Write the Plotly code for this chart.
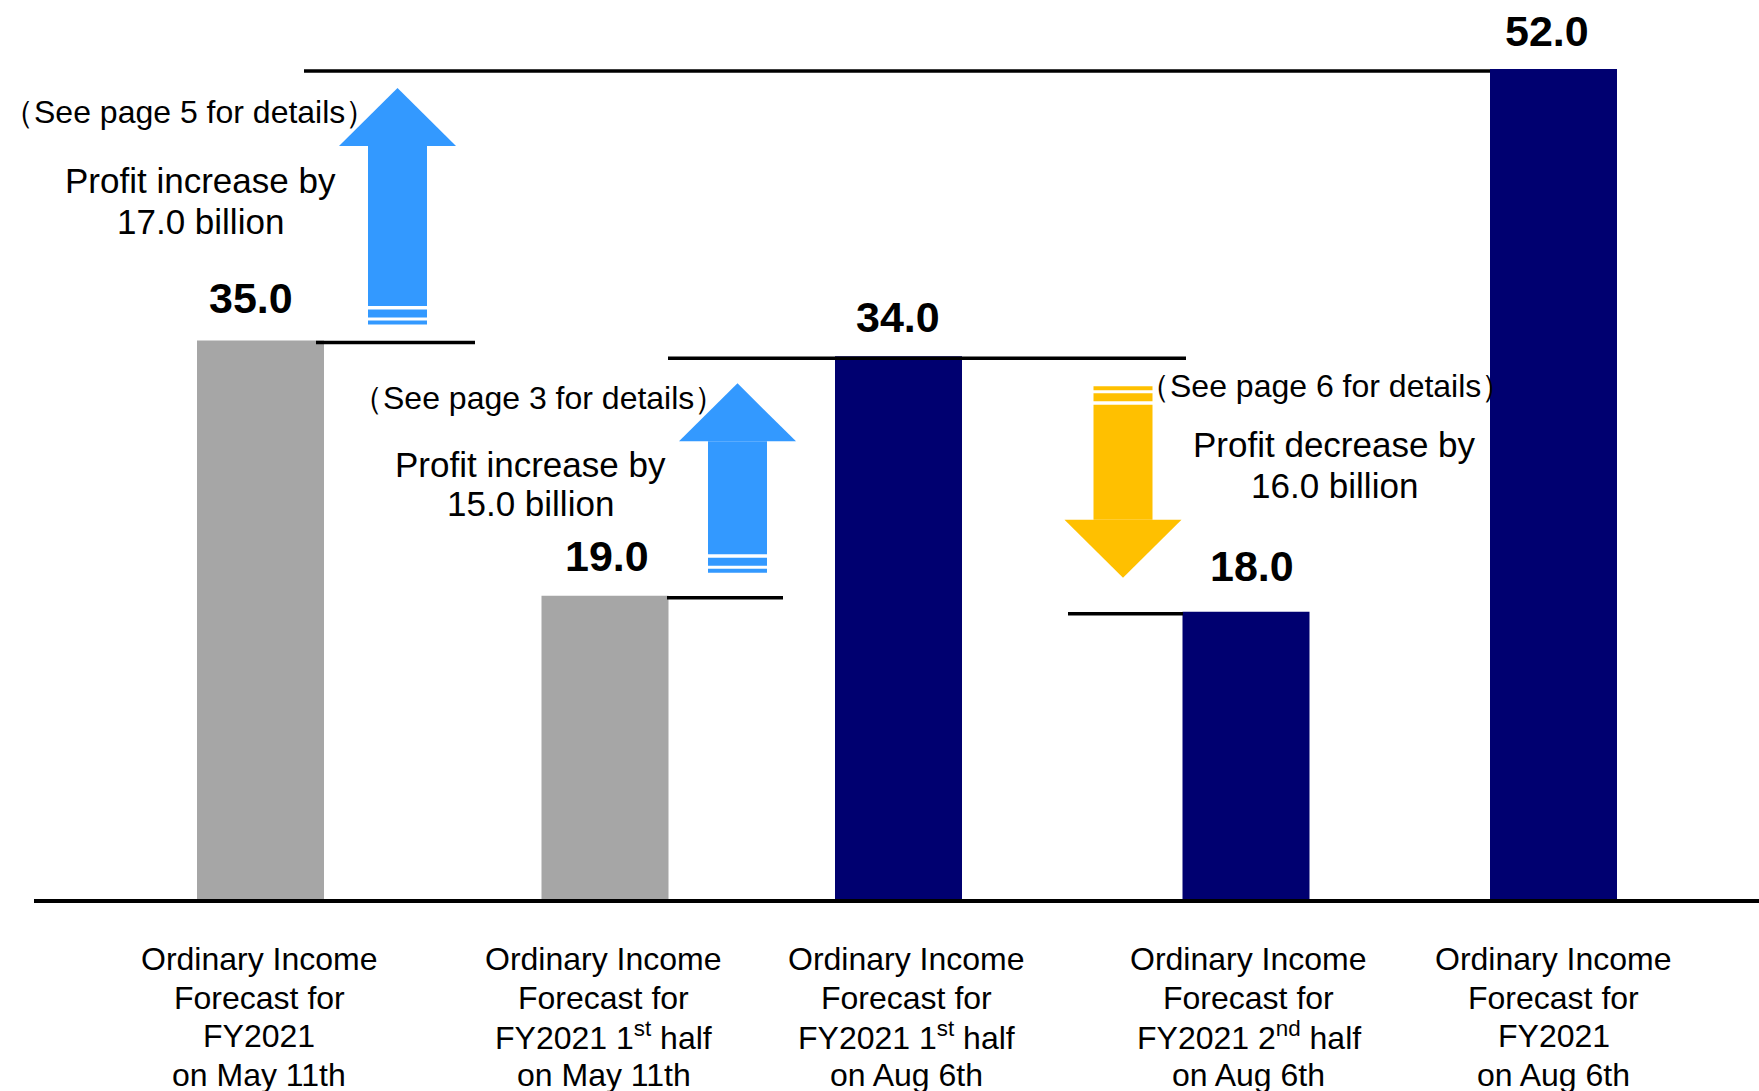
import plotly.graph_objects as go

# ---- data -------------------------------------------------------------
category_lines = [
    ["Ordinary Income", "Forecast for", "FY2021", "on May 11th"],
    ["Ordinary Income", "Forecast for", "FY2021 1<sup>st</sup> half", "on May 11th"],
    ["Ordinary Income", "Forecast for", "FY2021 1<sup>st</sup> half", "on Aug 6th"],
    ["Ordinary Income", "Forecast for", "FY2021 2<sup>nd</sup> half", "on Aug 6th"],
    ["Ordinary Income", "Forecast for", "FY2021", "on Aug 6th"],
]
values = [35.0, 19.0, 34.0, 18.0, 52.0]
bar_colors = ["#A6A6A6", "#A6A6A6", "#000070", "#000070", "#000070"]

# revisions: (from bar, to bar, note)
revisions = [
    (0, 4, "（See page 5 for details）"),
    (1, 2, "（See page 3 for details）"),
    (2, 3, "（See page 6 for details）"),
]

# ---- layout constants ------------------------------------------------
W, H = 1759, 1091
PLOT_LEFT = 34
ZERO_PX = 899            # vertical pixel of the value axis origin
PX_PER_UNIT = 15.96      # vertical pixels per billion
FONT = "Arial, Liberation Sans, sans-serif"

slot_x = [260.5, 605, 898.5, 1246, 1553.5]
label_x = [259, 603.5, 906, 1248.5, 1553.5]
value_label_dx = [-9.5, 1.5, -1, 5.5, -7]
value_label_dy = [42, 40, 39, 46, 38]
BAR_W = 127


def px_to_val(py):
    return (ZERO_PX - py) / PX_PER_UNIT


def px_to_paper(py):
    return (ZERO_PX - py) / ZERO_PX


def dv(px):
    return px / PX_PER_UNIT


fig = go.Figure()

fig.add_trace(go.Bar(
    x=slot_x, y=values, width=BAR_W,
    marker=dict(color=bar_colors, line=dict(width=0)),
    hoverinfo="skip", showlegend=False,
))

# ---- step connectors --------------------------------------------------
connectors = [  # (bar index, x0, x1)
    (4, 304, 1490),
    (0, 316, 475),
    (2, 668, 1186),
    (1, 667, 783),
    (3, 1068, 1183),
]
for i, x0, x1 in connectors:
    fig.add_shape(type="line", xref="x", yref="y",
                  ysizemode="pixel", yanchor=values[i], y0=-2, y1=-2,
                  x0=x0, x1=x1,
                  line=dict(color="black", width=3.5), layer="above")

# ---- revision arrows --------------------------------------------------
arrow_geo = [  # centre x, tail inset px, tip inset px
    (397.5, 16, 19),
    (737.5, 23, 27),
    (1123.0, 30, 34),
]
SHAFT_HW, HEAD_HW, HEAD_LEN = 29.5, 58.5, 58
STRIPE_A, GAP_A, STRIPE_B, GAP_B = 4, 3, 8, 3.5


def rect_path(x0, x1, y0, y1):
    return f"M{x0},{y0} L{x1},{y0} L{x1},{y1} L{x0},{y1} Z"


for (a, b, _), (cx, tail_in, tip_in) in zip(revisions, arrow_geo):
    up = values[b] > values[a]
    s = 1 if up else -1
    tail = values[a] + s * dv(tail_in)
    tip = values[b] - s * dv(tip_in)
    color = "#3399FF" if up else "#FFC000"
    # stripes near the tail, then shaft and head
    y_a1 = tail + s * dv(STRIPE_A)
    y_b0 = y_a1 + s * dv(GAP_A)
    y_b1 = y_b0 + s * dv(STRIPE_B)
    shaft0 = y_b1 + s * dv(GAP_B)
    head0 = tip - s * dv(HEAD_LEN)
    for y0, y1 in [(tail, y_a1), (y_b0, y_b1), (shaft0, head0)]:
        fig.add_shape(type="path", xref="x", yref="y",
                      path=rect_path(cx - SHAFT_HW, cx + SHAFT_HW, y0, y1),
                      fillcolor=color, line=dict(width=0), layer="above")
    head = (f"M{cx - HEAD_HW},{head0} L{cx + HEAD_HW},{head0} "
            f"L{cx},{tip} Z")
    fig.add_shape(type="path", xref="x", yref="y", path=head,
                  fillcolor=color, line=dict(width=0), layer="above")

# ---- texts ------------------------------------------------------------
def add_text(x, py, text, size):
    fig.add_annotation(
        x=x, y=px_to_paper(py), xref="x", yref="paper", text=text,
        showarrow=False, xanchor="center", yanchor="middle",
        font=dict(family=FONT, size=size, color="black"),
    )


# value labels above bars
for xv, v, dx, dy in zip(slot_x, values, value_label_dx, value_label_dy):
    fig.add_annotation(
        x=xv, y=v, xref="x", yref="y", text=f"<b>{v:.1f}</b>",
        showarrow=False, xanchor="center", yanchor="middle",
        xshift=dx, yshift=dy,
        font=dict(family=FONT, size=43, color="black"),
    )

note_pos = [(189, 112), (538, 398), (1325, 386)]
change_pos = [(200, 180, 222), (530, 464, 504), (1334, 444, 485)]
for (a, b, note), (nx, ny), (cx, y1, y2) in zip(revisions, note_pos, change_pos):
    delta = values[b] - values[a]
    word = "increase" if delta > 0 else "decrease"
    add_text(nx, ny, note, 32)
    add_text(cx, y1, f"Profit {word} by", 35)
    add_text(cx, y2, f"{abs(delta):.1f} billion", 35)

# category labels under the axis
line_py = [959, 997.5, 1036, 1074.5]
for lx, lines in zip(label_x, category_lines):
    for py, t in zip(line_py, lines):
        add_text(lx, py, t, 32)

fig.update_layout(
    width=W, height=H,
    margin=dict(l=PLOT_LEFT, r=0, t=0, b=H - ZERO_PX, pad=0),
    paper_bgcolor="white", plot_bgcolor="white",
    showlegend=False,
    xaxis=dict(range=[PLOT_LEFT, W], showgrid=False, zeroline=False,
               showticklabels=False, ticks="", showline=True,
               linecolor="black", linewidth=4, fixedrange=True),
    yaxis=dict(range=[0, ZERO_PX / PX_PER_UNIT], showgrid=False,
               zeroline=False, showticklabels=False, ticks="",
               showline=False, fixedrange=True),
)

fig.write_html("out.html", config={"displayModeBar": False})
